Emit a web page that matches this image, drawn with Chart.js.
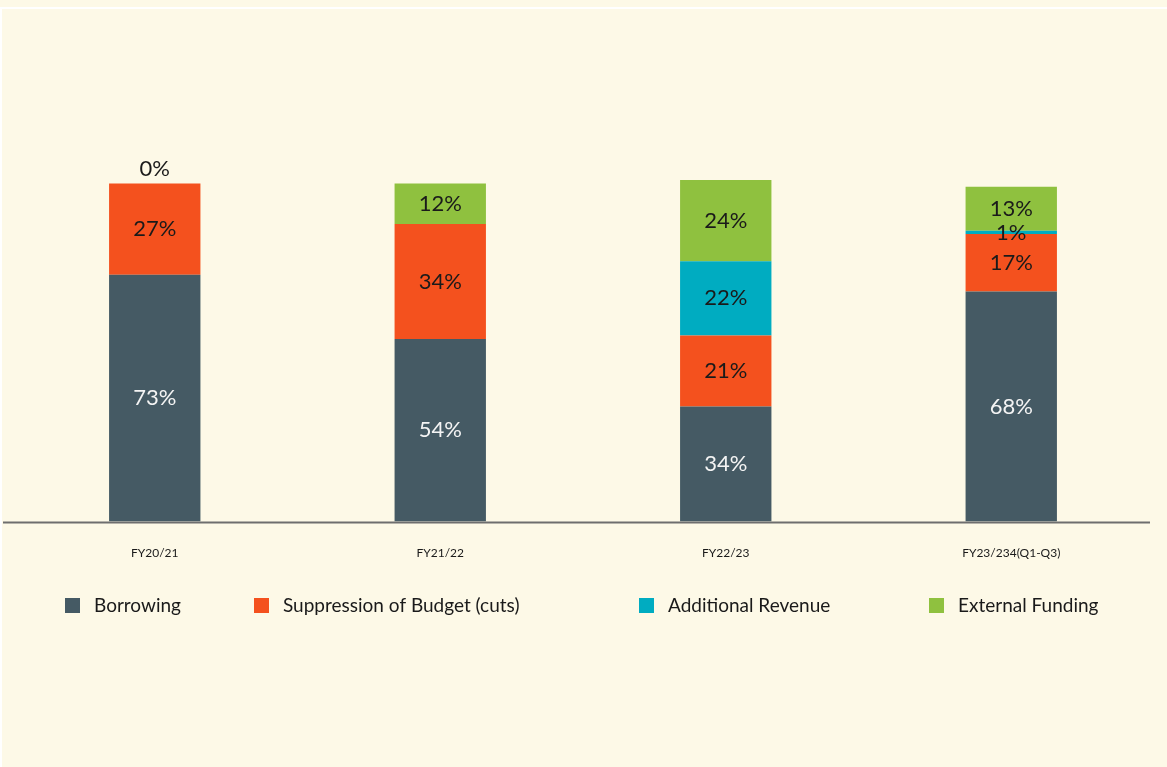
<!DOCTYPE html>
<html>
<head>
<meta charset="utf-8">
<script src="https://cdn.jsdelivr.net/npm/chart.js@4.4.1/dist/chart.umd.min.js"></script>
<style>
  html, body { margin: 0; padding: 0; background: #FDF9E7; }
  .frame {
    position: absolute; left: 0; top: 7px; width: 1167px; height: 760px;
    border-top: 2px solid #ffffff; border-left: 2px solid #ffffff; box-sizing: border-box;
  }
  canvas { position: absolute; left: 0; top: 0; }
</style>
</head>
<body>
<div class="frame"></div>
<canvas id="fundingChart" width="1167" height="767"></canvas>
<script>
const years = ['FY20/21', 'FY21/22', 'FY22/23', 'FY23/234(Q1-Q3)'];
const borrowing = [73, 54, 34, 68];
const budgetCuts = [27, 34, 21, 17];
const additionalRevenue = [null, null, 22, 1];
const externalFunding = [0, 12, 24, 13];

const seriesNames = ['Borrowing', 'Suppression of Budget (cuts)', 'Additional Revenue', 'External Funding'];
const seriesColors = ['#455A64', '#F4511E', '#00ACC1', '#8FC13F'];
const labelColors = ['#F4F4F4', '#1A1A1A', '#1A1A1A', '#1A1A1A'];

const fontFamily = 'Lato, "Open Sans", sans-serif';

// legend columns along the bottom
const legendX = [65, 254, 639, 929];
const legendY = 605;

// baseline runs a little wider than the plot area
const baseline = {
	id: 'baseline',
	beforeDatasetsDraw(chart) {
		const { ctx, chartArea, scales } = chart;
		const y = scales.y.getPixelForValue(0);
		ctx.save();
		ctx.strokeStyle = '#6E6E6E';
		ctx.lineWidth = 2;
		ctx.beginPath();
		ctx.moveTo(3, y + 1);
		ctx.lineTo(chartArea.right - 4, y + 1);
		ctx.stroke();
		ctx.restore();
	}
};

const segmentLabels = {
	id: 'segmentLabels',
	afterDatasetsDraw(chart) {
		const { ctx } = chart;
		ctx.save();
		ctx.textAlign = 'center';
		ctx.textBaseline = 'middle';
		ctx.font = '22px ' + fontFamily;
		chart.data.datasets.forEach((ds, i) => {
			const meta = chart.getDatasetMeta(i);
			meta.data.forEach((bar, j) => {
				const v = ds.data[j];
				if (v === null || v === undefined) return;
				ctx.fillStyle = labelColors[i];
				if (v === 0) {
					ctx.fillStyle = '#1A1A1A';
					ctx.fillText(v + '%', bar.x, bar.y - 14);
				} else {
					ctx.fillText(v + '%', bar.x, (bar.y + bar.base) / 2);
				}
			});
		});
		ctx.restore();
	}
};

const bottomLegend = {
	id: 'bottomLegend',
	afterDraw(chart) {
		const { ctx } = chart;
		ctx.save();
		ctx.textBaseline = 'middle';
		ctx.font = '19px ' + fontFamily;
		seriesNames.forEach((name, i) => {
			ctx.fillStyle = seriesColors[i];
			ctx.fillRect(legendX[i], legendY - 7, 15, 15);
			ctx.fillStyle = '#1A1A1A';
			ctx.fillText(name, legendX[i] + 29, legendY + 1);
		});
		ctx.restore();
	}
};

function fundingChartConfig() {
	const canvas = document.getElementById('fundingChart');
	if (!canvas) return;
	const ctx = canvas.getContext('2d');

	const series = [borrowing, budgetCuts, additionalRevenue, externalFunding];

	new Chart(ctx, {
		type: 'bar',
		data: {
			labels: years,
			datasets: series.map((data, i) => ({
				label: seriesNames[i],
				data: data,
				backgroundColor: seriesColors[i],
				borderWidth: 0,
				categoryPercentage: 1,
				barPercentage: 0.32
			}))
		},
		options: {
			responsive: false,
			animation: false,
			devicePixelRatio: 1,
			layout: {
				padding: { top: 180, left: 12, right: 13, bottom: 183 }
			},
			plugins: {
				legend: { display: false },
				tooltip: { enabled: false }
			},
			scales: {
				x: {
					stacked: true,
					grid: { display: false, drawTicks: false },
					border: { display: false },
					ticks: {
						color: '#1A1A1A',
						padding: 24,
						maxRotation: 0,
						font: { size: 12, family: fontFamily }
					}
				},
				y: {
					stacked: true,
					display: false,
					min: 0,
					max: 101
				}
			}
		},
		plugins: [baseline, segmentLabels, bottomLegend]
	});
}
document.addEventListener('DOMContentLoaded', fundingChartConfig);
</script>
</body>
</html>
